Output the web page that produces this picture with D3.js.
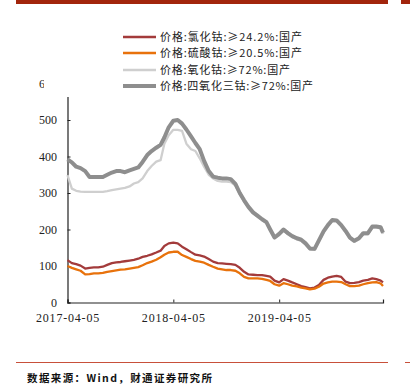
<!DOCTYPE html>
<html>
<head>
<meta charset="utf-8">
<script src="https://cdn.jsdelivr.net/npm/d3@7"></script>
<style>
  body { margin: 0; background: #fff; }
  svg { display: block; }
</style>
</head>
<body>
<svg id="chart" width="410" height="389"></svg>
<script>
// half-monthly dates, 2017-04-05 .. 2020-03
var dates = [
  "2017-04-05","2017-04-20","2017-05-05","2017-05-20","2017-06-05","2017-06-20",
  "2017-07-05","2017-07-20","2017-08-05","2017-08-20","2017-09-05","2017-09-20",
  "2017-10-05","2017-10-20","2017-11-05","2017-11-20","2017-12-05","2017-12-20",
  "2018-01-05","2018-01-20","2018-02-05","2018-02-20","2018-03-05","2018-03-20",
  "2018-04-05","2018-04-20","2018-05-05","2018-05-20","2018-06-05","2018-06-20",
  "2018-07-05","2018-07-20","2018-08-05","2018-08-20","2018-09-05","2018-09-20",
  "2018-10-05","2018-10-20","2018-11-05","2018-11-20","2018-12-05","2018-12-20",
  "2019-01-05","2019-01-20","2019-02-05","2019-02-20","2019-03-05","2019-03-20",
  "2019-04-05","2019-04-20","2019-05-05","2019-05-20","2019-06-05","2019-06-20",
  "2019-07-05","2019-07-20","2019-08-05","2019-08-20","2019-09-05","2019-09-20",
  "2019-10-05","2019-10-20","2019-11-05","2019-11-20","2019-12-05","2019-12-20",
  "2020-01-05","2020-01-20","2020-02-05","2020-02-20","2020-03-05","2020-03-20",
  "2020-03-28"
];

// 价格:氯化钴:≥24.2%:国产
var chloride = [116,108,105,101,93,95,96,96,98,103,108,110,111,113,115,117,120,125,
  128,132,137,142,155,162,164,162,153,146,138,131,129,126,119,112,108,107,106,105,
  103,95,84,77,76,75,75,73,71,60,55,64,60,55,50,45,42,39,41,48,62,68,71,73,70,57,
  53,54,56,60,62,66,64,60,55];

// 价格:硫酸钴:≥20.5%:国产
var sulfate = [100,95,91,87,77,78,80,80,81,84,86,88,90,91,93,95,97,102,
  108,112,117,124,131,137,139,139,130,125,119,114,112,109,103,98,93,91,89,89,
  87,80,70,66,66,66,65,62,59,50,46,53,50,46,44,41,39,36,38,43,52,55,57,57,56,50,
  45,45,46,50,53,55,56,52,45];

// 价格:氧化钴:≥72%:国产
var oxide = [349,312,306,304,303,303,303,303,303,305,308,310,312,314,318,326,330,340,
  360,374,386,390,435,458,473,473,470,435,420,415,395,372,350,340,333,331,331,330,
  320,297,277,259,244,235,226,218,198,176,185,197,187,179,173,169,159,145,144,167,
  192,209,223,222,209,193,175,166,173,187,187,205,205,203,188];

// 价格:四氧化三钴:≥72%:国产
var co3o4 = [392,384,372,368,360,344,344,344,344,350,356,360,360,357,362,366,370,385,
  404,415,424,432,452,480,498,500,490,474,455,437,420,388,360,345,342,340,340,338,
  325,300,280,262,247,238,228,220,200,178,188,200,190,182,176,172,162,148,147,170,
  195,212,226,225,212,196,178,169,176,190,190,208,208,206,191];

var seriesNames = [
  "价格:氯化钴:≥24.2%:国产",
  "价格:硫酸钴:≥20.5%:国产",
  "价格:氧化钴:≥72%:国产",
  "价格:四氧化三钴:≥72%:国产"
];
var seriesValues = [chloride, sulfate, oxide, co3o4];
var seriesColors = ["#A33B3B", "#E8720C", "#CFCFCF", "#8E8E8E"];
var seriesWidths = [2.3, 2.3, 2.3, 4];

var yTicks = [0, 100, 200, 300, 400, 500, 600];
var xTickLabels = ["2017-04-05", "2018-04-05", "2019-04-05"];

var parseDate = d3.timeParse("%Y-%m-%d");

var svg = d3.select("#chart");
var margin = {l: 67.5, t: 83.5};

var x = d3.scaleTime()
  .domain([parseDate("2017-04-05"), parseDate("2020-03-28")])
  .range([margin.l, 383]);

var y = d3.scaleLinear()
  .domain([0, 600])
  .range([302.5, margin.t]);

var serif = "'Liberation Serif', 'DejaVu Serif', serif";

// top and bottom decoration bars
svg.append("rect").attr("x", 16).attr("y", 0).attr("width", 372).attr("height", 4).attr("fill", "#A2250C");
svg.append("rect").attr("x", 401).attr("y", 0).attr("width", 9).attr("height", 4).attr("fill", "#A2250C");
svg.append("rect").attr("x", 16).attr("y", 362).attr("width", 372).attr("height", 1).attr("fill", "#C8503A");
svg.append("rect").attr("x", 405).attr("y", 362).attr("width", 5).attr("height", 1).attr("fill", "#C8503A");

// y axis
var yAxis = svg.append("g")
  .attr("transform", "translate(" + margin.l + ",0)")
  .call(d3.axisRight(y).tickValues(yTicks).tickSize(3).tickFormat(d3.format("d")));
yAxis.select(".domain").attr("stroke", "#222").attr("stroke-width", 1.2);
yAxis.selectAll(".tick line").attr("stroke", "#222");
yAxis.selectAll(".tick text")
  .attr("x", -10.5)
  .attr("text-anchor", "end")
  .attr("fill", "#222")
  .style("font-family", serif)
  .style("font-size", "12px");

// x axis
var xAxis = svg.append("g")
  .attr("transform", "translate(0," + y(0) + ")")
  .call(d3.axisTop(x)
    .tickValues(xTickLabels.map(parseDate))
    .tickSize(3)
    .tickFormat(d3.timeFormat("%Y-%m-%d")));
xAxis.select(".domain").attr("stroke", "#222").attr("stroke-width", 1.2);
xAxis.selectAll(".tick line").attr("stroke", "#222");
xAxis.selectAll(".tick text")
  .attr("y", 19.5)
  .attr("dy", 0)
  .attr("fill", "#222")
  .style("font-family", serif)
  .style("font-size", "12px")
  .style("letter-spacing", "0.8px");

// lines
var line = d3.line()
  .x(function(d, i) { return x(parseDate(dates[i])); })
  .y(function(d) { return y(d); });

seriesValues.forEach(function(vals, k) {
  svg.append("path")
    .datum(vals)
    .attr("fill", "none")
    .attr("stroke", seriesColors[k])
    .attr("stroke-width", seriesWidths[k])
    .attr("stroke-linejoin", "round")
    .attr("d", line);
});

// legend box covers the top of the axis
var legend = svg.append("g");
legend.append("rect")
  .attr("x", 44).attr("y", 22).attr("width", 300).attr("height", 75)
  .attr("fill", "#fff");

var legendRows = [37, 53, 70, 86];
var legendWidths = [142, 142, 130, 153];
seriesNames.forEach(function(name, k) {
  legend.append("line")
    .attr("x1", 123).attr("x2", 156)
    .attr("y1", legendRows[k]).attr("y2", legendRows[k])
    .attr("stroke", seriesColors[k])
    .attr("stroke-width", seriesWidths[k]);
  legend.append("text")
    .attr("x", 160)
    .attr("y", legendRows[k])
    .attr("dy", "0.35em")
    .attr("fill", "#222")
    .attr("textLength", legendWidths[k])
    .attr("lengthAdjust", "spacing")
    .style("font-family", "'Noto Sans CJK SC', sans-serif")
    .style("font-size", "11px")
    .text(name);
});

// source note
svg.append("text")
  .attr("x", 27)
  .attr("y", 378)
  .attr("dy", "0.35em")
  .attr("fill", "#111")
  .attr("textLength", 185)
  .attr("lengthAdjust", "spacing")
  .style("font-family", "'Noto Sans CJK SC', sans-serif")
  .style("font-size", "10.5px")
  .style("font-weight", "bold")
  .text("数据来源：Wind，财通证券研究所");
</script>
</body>
</html>
